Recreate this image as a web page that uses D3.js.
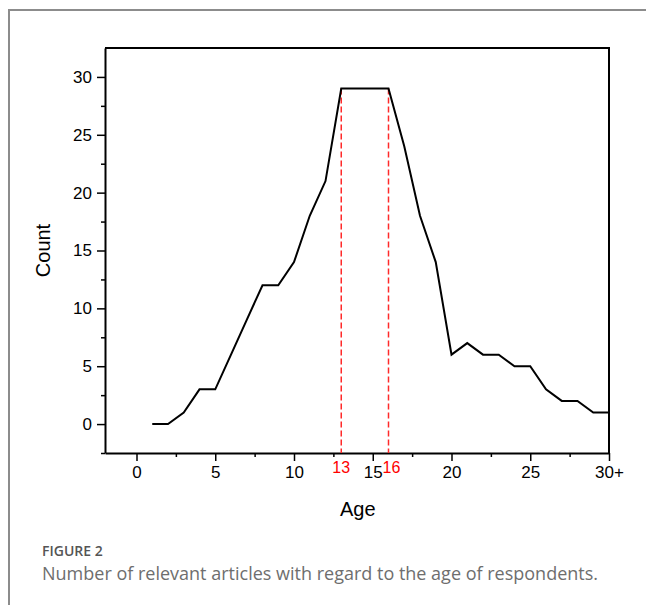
<!DOCTYPE html>
<html>
<head>
<meta charset="utf-8">
<script src="https://cdn.jsdelivr.net/npm/d3@7"></script>
<style>
body{margin:0;background:#fff;}
.tick text{font-family:"Liberation Sans",Arial,sans-serif;font-size:17px;fill:#000;}
.label{font-family:"Liberation Sans",Arial,sans-serif;font-size:20px;fill:#000;}
.marker{font-family:"Liberation Sans",Arial,sans-serif;font-size:16px;fill:#ff0000;}
.figno{font-family:"Open Sans",sans-serif;font-size:14px;font-weight:600;fill:#555;}
.caption{font-family:"Open Sans",sans-serif;font-size:18px;fill:#6e6e6e;}
</style>
</head>
<body>
<svg id="chart"></svg>
<script>
//data
var ages=[1,2,3,4,5,6,7,8,9,10,11,12,13,14,15,16,17,18,19,20,21,22,23,24,25,26,27,28,29,30]
var counts=[0,0,1,3,3,6,9,12,12,14,18,21,29,29,29,29,24,18,14,6,7,6,6,5,5,3,2,2,1,1]
var xTicks=[0,5,10,15,20,25,30]
var xTickLabels=["0","5","10","15","20","25","30+"]
var yTicks=[0,5,10,15,20,25,30]
var markers=[13,16]
var captionTitle="FIGURE 2"
var captionText="Number of relevant articles with regard to the age of respondents."

var screen={width:646,height:605}
var margins={left:105,right:37,top:48,bottom:152}
var graph={
    width:screen.width-margins.left-margins.right,
    height:screen.height-margins.top-margins.bottom
}

var svg=d3.select("#chart")
    .attr("width",screen.width)
    .attr("height",screen.height)

//frame round the figure
svg.append("path")
    .attr("d","M9,"+screen.height+"V10H"+screen.width)
    .attr("fill","none")
    .attr("stroke","#8c8c8c")
    .attr("stroke-width",2)

var xScale=d3.scaleLinear()
    .domain([-2,30])
    .range([0,graph.width])
var yScale=d3.scaleLinear()
    .domain([-2.5,32.5])
    .range([graph.height,0])

var plot=svg.append("g")
    .attr("transform","translate("+margins.left+","+margins.top+")")

//minor ticks
var xMinor=d3.range(-2.5,30,5).filter(function(d){return d>-2})
var yMinor=d3.range(-2.5,32.5,5)
plot.append("g")
    .attr("transform","translate(0,"+graph.height+")")
    .call(d3.axisBottom(xScale).tickValues(xMinor).tickSize(4).tickFormat(""))
    .call(function(g){g.select(".domain").remove()})
    .selectAll("line").attr("stroke-width",1.5)
plot.append("g")
    .call(d3.axisLeft(yScale).tickValues(yMinor).tickSize(4).tickFormat(""))
    .call(function(g){g.select(".domain").remove()})
    .selectAll("line").attr("stroke-width",1.5)

//major axes
var xAxis=plot.append("g")
    .attr("transform","translate(0,"+graph.height+")")
    .call(d3.axisBottom(xScale).tickValues(xTicks).tickSize(8).tickSizeOuter(0).tickPadding(5)
        .tickFormat(function(d,i){return xTickLabels[i]}))
var yAxis=plot.append("g")
    .call(d3.axisLeft(yScale).tickValues(yTicks).tickSize(8).tickSizeOuter(0).tickPadding(5))
plot.selectAll(".domain").attr("stroke-width",2)
plot.selectAll(".tick line").attr("stroke-width",1.5)

//top and right edges of the box
plot.append("path")
    .attr("d","M0,0H"+graph.width+"V"+graph.height)
    .attr("fill","none")
    .attr("stroke","#000")
    .attr("stroke-width",2)

//red dashed markers
plot.selectAll(".markline")
    .data(markers)
    .enter()
    .append("line")
    .classed("markline",true)
    .attr("x1",function(d){return xScale(d)})
    .attr("x2",function(d){return xScale(d)})
    .attr("y1",yScale(29))
    .attr("y2",graph.height)
    .attr("stroke","#ff2a2a")
    .attr("stroke-width",1.5)
    .attr("stroke-dasharray","6,3")

plot.selectAll(".marker")
    .data(markers)
    .enter()
    .append("text")
    .classed("marker",true)
    .text(function(d){return d})
    .attr("text-anchor","middle")
    .attr("x",function(d,i){return xScale(d)+(i==1?3:0)})
    .attr("y",graph.height+20)

//the line
var lineGenerator=d3.line()
    .x(function(d,i){return xScale(ages[i])})
    .y(function(d){return yScale(d)})
plot.append("path")
    .datum(counts)
    .attr("d",lineGenerator)
    .attr("fill","none")
    .attr("stroke","#000")
    .attr("stroke-width",2)
    .attr("stroke-linejoin","miter")

//axis titles
svg.append("text")
    .text("Age")
    .classed("label",true)
    .attr("text-anchor","middle")
    .attr("x",margins.left+xScale(15)-15)
    .attr("y",516)
svg.append("g")
    .attr("transform","translate(50,"+(margins.top+yScale(15))+")")
    .append("text")
    .text("Count")
    .classed("label",true)
    .attr("text-anchor","middle")
    .attr("transform","rotate(270)")

//caption
svg.append("text")
    .text(captionTitle)
    .classed("figno",true)
    .attr("x",42)
    .attr("y",556)
svg.append("text")
    .text(captionText)
    .classed("caption",true)
    .attr("x",42)
    .attr("y",580)
</script>
</body>
</html>
